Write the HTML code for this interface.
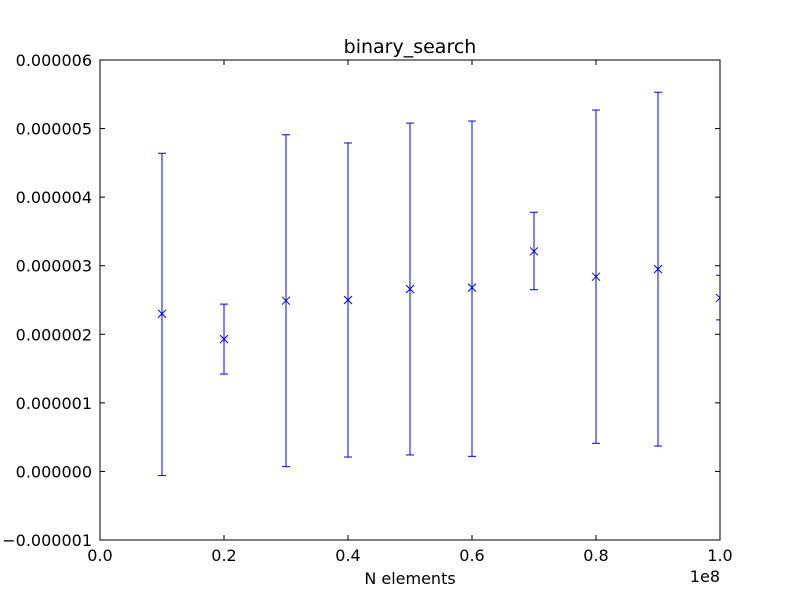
<!DOCTYPE html>
<html><head><meta charset="utf-8"><style>body{margin:0;background:#fff}svg text{font-family:"DejaVu Sans","Liberation Sans",sans-serif}</style></head>
<body>
<svg id="chart" width="800" height="600" xmlns="http://www.w3.org/2000/svg">
<defs><clipPath id="clip"><rect x="100" y="60" width="620" height="480"/></clipPath></defs>
<rect width="800" height="600" fill="#fff"/>
<g id="marks" clip-path="url(#clip)"></g>
<rect x="100" y="60" width="620" height="480" fill="none" stroke="#000" stroke-width="1"/>
<g id="axes"></g>
<text x="410" y="53" font-size="19" text-anchor="middle">binary_search</text>
<text x="410" y="584" font-size="16" text-anchor="middle">N elements</text>
<text x="720" y="582" font-size="16" text-anchor="end">1e8</text>
</svg>
<script>
const xs = [0.1,0.2,0.3,0.4,0.5,0.6,0.7,0.8,0.9,1.0];
const means = [2.30,1.93,2.49,2.50,2.66,2.68,3.21,2.84,2.95,2.53];
const uppers = [4.64,2.44,4.91,4.79,5.08,5.11,3.78,5.27,5.53,2.86];
const lowers = [-0.06,1.42,0.07,0.21,0.24,0.22,2.65,0.41,0.37,2.21];
const xTicks = ["0.0","0.2","0.4","0.6","0.8","1.0"];
const yTicks = ["\u22120.000001","0.000000","0.000001","0.000002","0.000003","0.000004","0.000005","0.000006"];
const NS="http://www.w3.org/2000/svg";
const X = v => 100 + v*620;
const Y = v => 540 - (v+1)/7*480;
function mk(tag, attrs, parent){const e=document.createElementNS(NS,tag);for(const k in attrs)e.setAttribute(k,attrs[k]);parent.appendChild(e);return e;}
const marks=document.getElementById('marks'), axes=document.getElementById('axes');
xs.forEach((x,i)=>{
  const g=mk('g',{stroke:'#0000ff','stroke-width':1,fill:'none'},marks);
  
  
  const px=X(x);
  mk('line',{x1:px,x2:px,y1:Y(uppers[i]),y2:Y(lowers[i])},g);
  mk('line',{x1:px-4,x2:px+4,y1:Y(uppers[i]),y2:Y(uppers[i])},g);
  mk('line',{x1:px-4,x2:px+4,y1:Y(lowers[i]),y2:Y(lowers[i])},g);
  const py=Y(means[i]);
  mk('path',{d:`M${px-4},${py-4}L${px+4},${py+4}M${px-4},${py+4}L${px+4},${py-4}`},g);
});
xTicks.forEach((t,i)=>{
  const px=X(i*0.2);
  const g=mk('g',{},axes);
  
  
  mk('line',{x1:px,x2:px,y1:540,y2:535,stroke:'#000'},g);
  mk('line',{x1:px,x2:px,y1:60,y2:65,stroke:'#000'},g);
  const tx=mk('text',{x:px,y:561,'font-size':16,'text-anchor':'middle'},g);tx.textContent=t;
});
yTicks.forEach((t,i)=>{
  const py=Y(i-1);
  const g=mk('g',{},axes);
  
  
  mk('line',{x1:100,x2:105,y1:py,y2:py,stroke:'#000'},g);
  mk('line',{x1:715,x2:720,y1:py,y2:py,stroke:'#000'},g);
  const tx=mk('text',{x:92,y:py+6,'font-size':16,'text-anchor':'end'},g);tx.textContent=t;
});
</script>
</body></html>
